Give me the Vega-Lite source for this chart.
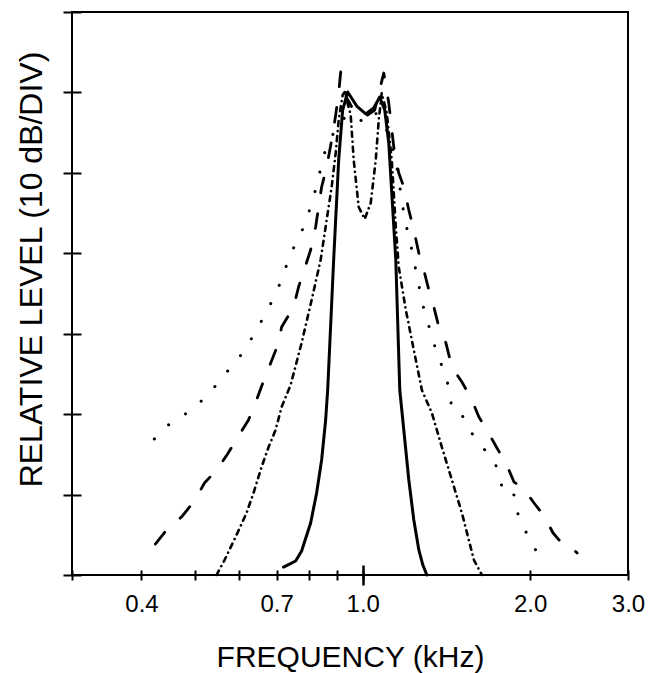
{
  "$schema": "https://vega.github.io/schema/vega-lite/v6.json",
  "width": 556,
  "height": 563,
  "autosize": {"type": "none"},
  "padding": {"left": 72, "top": 12, "right": 30, "bottom": 98},
  "background": "white",
  "config": {
    "view": {"stroke": "black", "strokeWidth": 2},
    "axis": {"labelColor": "black", "titleColor": "black", "tickColor": "black", "labelFont": "Liberation Sans", "titleFont": "Liberation Sans", "titleFontWeight": "normal", "grid": false, "domain": false}
  },
  "datasets": {
    "curves": [
      {"c":"a","f":0.7205,"d":0.99},{"c":"a","f":0.7575,"d":1.74},{"c":"a","f":0.7764,"d":2.98},{"c":"a","f":0.806,"d":6.47},{"c":"a","f":0.8262,"d":10.2},{"c":"a","f":0.8435,"d":14.3},{"c":"a","f":0.8577,"d":19.27},{"c":"a","f":0.8649,"d":23.0},{"c":"a","f":0.8866,"d":39.16},{"c":"a","f":0.9052,"d":51.6},{"c":"a","f":0.9203,"d":57.81},{"c":"a","f":0.9396,"d":60.05},{"c":"a","f":0.9754,"d":58.31},{"c":"a","f":1.0125,"d":57.32},{"c":"a","f":1.0467,"d":58.06},{"c":"a","f":1.073,"d":59.43},{"c":"a","f":1.0955,"d":57.81},{"c":"a","f":1.1139,"d":53.71},{"c":"a","f":1.1279,"d":47.49},{"c":"a","f":1.1468,"d":39.16},{"c":"a","f":1.1659,"d":23.0},{"c":"a","f":1.1854,"d":18.03},{"c":"a","f":1.2103,"d":11.81},{"c":"a","f":1.2357,"d":6.84},{"c":"a","f":1.2616,"d":3.11},{"c":"a","f":1.2828,"d":1.24},{"c":"a","f":1.3043,"d":0},
      {"c":"b","f":0.5458,"d":0},{"c":"b","f":0.5643,"d":1.86},{"c":"b","f":0.5906,"d":4.72},{"c":"b","f":0.618,"d":7.71},{"c":"b","f":0.6362,"d":10.2},{"c":"b","f":0.6577,"d":13.43},{"c":"b","f":0.6772,"d":15.91},{"c":"b","f":0.6971,"d":18.03},{"c":"b","f":0.7147,"d":20.89},{"c":"b","f":0.7418,"d":23.62},{"c":"b","f":0.7764,"d":28.85},{"c":"b","f":0.8093,"d":34.19},{"c":"b","f":0.84,"d":39.16},{"c":"b","f":0.8613,"d":44.14},{"c":"b","f":0.8793,"d":48.24},{"c":"b","f":0.8941,"d":52.47},{"c":"b","f":0.9052,"d":56.57},{"c":"b","f":0.9203,"d":59.68},{"c":"b","f":0.9281,"d":60.05},{"c":"b","f":0.9514,"d":57.19},{"c":"b","f":0.9634,"d":51.6},{"c":"b","f":0.9835,"d":45.75},{"c":"b","f":1.0083,"d":44.26},{"c":"b","f":1.0337,"d":46.25},{"c":"b","f":1.0554,"d":51.6},{"c":"b","f":1.0686,"d":56.57},{"c":"b","f":1.0819,"d":59.93},{"c":"b","f":1.1047,"d":57.44},{"c":"b","f":1.1279,"d":51.6},{"c":"b","f":1.1468,"d":43.27},{"c":"b","f":1.161,"d":38.29},{"c":"b","f":1.1954,"d":32.95},{"c":"b","f":1.2357,"d":27.97},{"c":"b","f":1.2775,"d":23.0},{"c":"b","f":1.3316,"d":20.14},{"c":"b","f":1.3878,"d":15.91},{"c":"b","f":1.4467,"d":11.81},{"c":"b","f":1.5079,"d":7.71},{"c":"b","f":1.5849,"d":1.86},{"c":"b","f":1.6383,"d":0},
      {"c":"c","f":0.4236,"d":3.85},{"c":"c","f":0.4453,"d":5.72},{"c":"c","f":0.472,"d":7.21},{"c":"c","f":0.4981,"d":9.2},{"c":"c","f":0.5192,"d":11.44},{"c":"c","f":0.5481,"d":13.18},{"c":"c","f":0.5713,"d":15.04},{"c":"c","f":0.5979,"d":17.28},{"c":"c","f":0.6231,"d":19.27},{"c":"c","f":0.6442,"d":21.76},{"c":"c","f":0.6632,"d":24.12},{"c":"c","f":0.7058,"d":28.85},{"c":"c","f":0.7147,"d":30.83},{"c":"c","f":0.751,"d":33.32},{"c":"c","f":0.7667,"d":35.81},{"c":"c","f":0.806,"d":40.41},{"c":"c","f":0.8228,"d":43.27},{"c":"c","f":0.8435,"d":48.24},{"c":"c","f":0.8613,"d":50.73},{"c":"c","f":0.8793,"d":54.08},{"c":"c","f":0.8941,"d":57.19},{"c":"c","f":0.9052,"d":59.93},{"c":"c","f":0.9128,"d":62.54},{"c":"c","f":0.9358,"d":59.31},{"c":"c","f":0.9674,"d":57.57},{"c":"c","f":1.0083,"d":56.94},{"c":"c","f":1.051,"d":57.81},{"c":"c","f":1.091,"d":62.41},{"c":"c","f":1.1139,"d":58.68},{"c":"c","f":1.1373,"d":53.21},{"c":"c","f":1.161,"d":49.98},{"c":"c","f":1.1854,"d":48.24},{"c":"c","f":1.2103,"d":45.38},{"c":"c","f":1.2357,"d":42.89},{"c":"c","f":1.2616,"d":40.03},{"c":"c","f":1.288,"d":37.92},{"c":"c","f":1.315,"d":35.43},{"c":"c","f":1.3426,"d":33.32},{"c":"c","f":1.3707,"d":30.83},{"c":"c","f":1.4111,"d":28.85},{"c":"c","f":1.4467,"d":25.86},{"c":"c","f":1.5079,"d":24.0},{"c":"c","f":1.5655,"d":22.01},{"c":"c","f":1.6181,"d":19.64},{"c":"c","f":1.68,"d":17.78},{"c":"c","f":1.7434,"d":15.79},{"c":"c","f":1.8099,"d":13.93},{"c":"c","f":1.871,"d":11.56},{"c":"c","f":1.9421,"d":10.82},{"c":"c","f":2.0329,"d":8.95},{"c":"c","f":2.1191,"d":7.34},{"c":"c","f":2.1997,"d":5.22},{"c":"c","f":2.3026,"d":3.61},{"c":"c","f":2.3705,"d":3.48},{"c":"c","f":2.43,"d":2.74},
      {"c":"d","f":0.4219,"d":16.91},{"c":"d","f":0.4471,"d":18.65},{"c":"d","f":0.4798,"d":20.02},{"c":"d","f":0.5106,"d":21.51},{"c":"d","f":0.5412,"d":23.37},{"c":"d","f":0.5736,"d":25.49},{"c":"d","f":0.6104,"d":27.73},{"c":"d","f":0.6442,"d":30.46},{"c":"d","f":0.6772,"d":33.2},{"c":"d","f":0.7058,"d":35.81},{"c":"d","f":0.7265,"d":38.17},{"c":"d","f":0.7478,"d":40.41},{"c":"d","f":0.7764,"d":42.65},{"c":"d","f":0.7995,"d":45.01},{"c":"d","f":0.8194,"d":47.49},{"c":"d","f":0.8366,"d":49.98},{"c":"d","f":0.8506,"d":52.22},{"c":"d","f":0.8793,"d":54.46},{"c":"d","f":0.9052,"d":56.32},{"c":"d","f":0.9514,"d":57.32},{"c":"d","f":1.0042,"d":56.32},{"c":"d","f":1.051,"d":57.57},{"c":"d","f":1.0955,"d":55.95},{"c":"d","f":1.1233,"d":53.84},{"c":"d","f":1.1468,"d":51.6},{"c":"d","f":1.1757,"d":46.62},{"c":"d","f":1.1904,"d":44.14},{"c":"d","f":1.2152,"d":41.65},{"c":"d","f":1.2357,"d":39.16},{"c":"d","f":1.2563,"d":36.68},{"c":"d","f":1.2775,"d":34.19},{"c":"d","f":1.2988,"d":31.95},{"c":"d","f":1.3373,"d":29.59},{"c":"d","f":1.3598,"d":27.1},{"c":"d","f":1.4111,"d":25.24},{"c":"d","f":1.4288,"d":22.75},{"c":"d","f":1.4527,"d":20.27},{"c":"d","f":1.5205,"d":19.64},{"c":"d","f":1.5655,"d":17.78},{"c":"d","f":1.6316,"d":16.04},{"c":"d","f":1.7149,"d":14.55},{"c":"d","f":1.7654,"d":12.31},{"c":"d","f":1.7877,"d":10.07},{"c":"d","f":1.8787,"d":9.95},{"c":"d","f":1.9022,"d":7.58},{"c":"d","f":1.9662,"d":5.35},{"c":"d","f":2.0244,"d":3.48},{"c":"d","f":2.1104,"d":2.11}
    ]
  },
  "data": {"name": "curves"},
  "encoding": {
    "y": {
      "field": "d", "type": "quantitative",
      "scale": {"domain": [0, 70], "nice": false},
      "axis": {
        "values": [0, 10, 20, 30, 40, 50, 60, 70],
        "offset": -9, "tickSize": 18, "tickWidth": 2, "labels": false,
        "title": "RELATIVE LEVEL (10 dB/DIV)", "titleFontSize": 32,
        "titleX": -50, "titleY": 257, "titleAngle": -90, "titleAlign": "center", "titleBaseline": "middle"
      }
    }
  },
  "layer": [
    {
      "transform": [{"filter": "datum.c != 'a'"}],
      "mark": {"type": "line", "color": "black", "strokeCap": "round", "strokeJoin": "round"},
      "encoding": {
        "x": {
          "field": "f", "type": "quantitative",
          "scale": {"type": "log", "domain": [0.3, 3], "nice": false},
          "axis": {
            "orient": "bottom",
            "values": [0.3, 0.4, 0.5, 0.6, 0.7, 0.8, 0.9, 1, 2, 3],
            "offset": -5, "tickSize": 10, "tickWidth": 2,
            "labelExpr": "indexof([0.4, 0.7, 1, 2, 3], datum.value) >= 0 ? format(datum.value, '.1f') : ''",
            "labelFontSize": 24, "labelPadding": 31, "labelBaseline": "alphabetic",
            "labelFlush": false, "labelOverlap": false, "labelBound": false,
            "title": "FREQUENCY (kHz)", "titleFontSize": 30, "titleY": 96, "titleBaseline": "alphabetic"
          }
        },
        "detail": {"field": "c"},
        "strokeDash": {
          "field": "c", "type": "nominal", "legend": null,
          "scale": {"domain": ["b", "c", "d"], "range": [[5, 5, 0.1, 5], [15, 21], [0.1, 20]]}
        },
        "strokeWidth": {
          "field": "c", "type": "nominal", "legend": null,
          "scale": {"domain": ["b", "c", "d"], "range": [2.6, 3, 4]}
        }
      }
    },
    {
      "transform": [{"filter": "datum.c == 'a'"}],
      "mark": {"type": "line", "color": "black", "strokeWidth": 3, "strokeCap": "round", "strokeJoin": "round"},
      "encoding": {
        "x": {
          "field": "f", "type": "quantitative",
          "scale": {"type": "log", "domain": [0.3, 3], "nice": false},
          "axis": {"orient": "bottom", "values": [1], "offset": -10, "tickSize": 20, "tickWidth": 2.5, "labels": false, "title": null}
        }
      }
    }
  ],
  "resolve": {"axis": {"x": "independent"}}
}
